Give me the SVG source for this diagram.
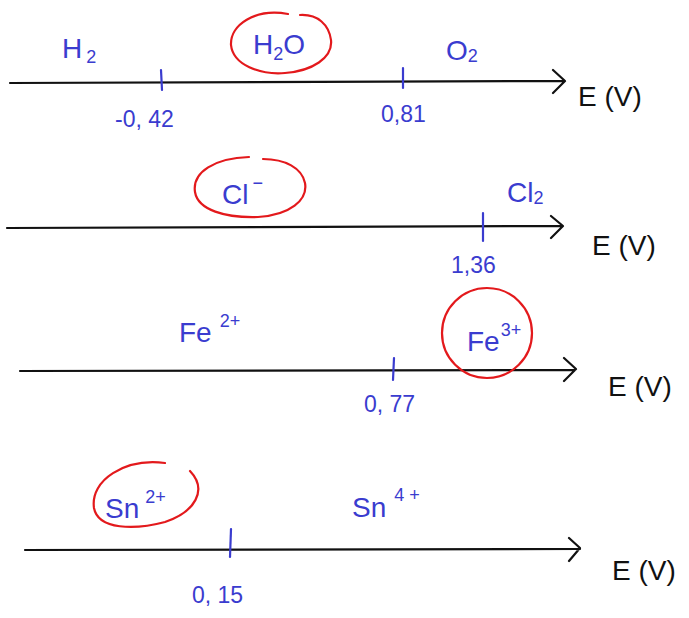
<svg xmlns="http://www.w3.org/2000/svg" width="689" height="618" viewBox="0 0 689 618">
<defs>
<style>
.ax{stroke:#111;stroke-width:2.2;fill:none;stroke-linecap:round;stroke-linejoin:round}
.tk{stroke:#3a3ccf;stroke-width:2.2;stroke-linecap:round}
.ring{stroke:#e3191c;stroke-width:2.2;fill:none;stroke-linecap:round}
.sp{font-family:"Liberation Sans","DejaVu Sans",sans-serif;fill:#3a3ccf;font-size:28px}
.num{font-family:"Liberation Sans","DejaVu Sans",sans-serif;fill:#3a3ccf;font-size:23px}
.ev{font-family:"Liberation Sans","DejaVu Sans",sans-serif;fill:#111;font-size:28px}
.sub{font-size:18px}
</style>
</defs>
<rect width="689" height="618" fill="#fff"/>
<g id="connectors">
<path class="ax" d="M10 83 L563 81 M553 70 L565 81 L553 93"/>
<path class="ax" d="M7 228 L562 226 M551 216 L563 226 L551 238"/>
<path class="ax" d="M20 371 L575 370 M564 358 L576 369 L564 381"/>
<path class="ax" d="M25 550 L580 549 M569 538 L580 548 L569 561"/>
</g>
<g id="row1">
<line class="tk" x1="161" y1="70" x2="162" y2="90"/>
<line class="tk" x1="403" y1="68" x2="403" y2="88"/>
<text class="sp" x="62" y="58">H<tspan class="sub" dx="4" dy="5">2</tspan></text>
<g id="h2o"><path class="ring" d="M288 14 C255 8 230 25 231 45 C233 65 260 75 285 73 C312 71 333 58 331 40 C329 25 318 14 300 15"/>
<text class="sp" x="253" y="54">H<tspan class="sub" dy="6">2</tspan><tspan dy="-6">O</tspan></text></g>
<text class="sp" x="446" y="60">O<tspan class="sub" dy="2">2</tspan></text>
<text class="num" x="115" y="127">-0, 42</text>
<text class="num" x="381" y="122">0,81</text>
<text class="ev" x="578" y="106">E (V)</text>
</g>
<g id="row2">
<line class="tk" x1="483" y1="213" x2="483" y2="241"/>
<g id="cl"><path class="ring" d="M249 157 C215 158 192 172 195 192 C198 210 225 218 258 217 C290 215 308 200 305 183 C302 168 285 159 263 159"/>
<text class="sp" x="222" y="204">Cl<tspan class="sub" dx="4" dy="-15">−</tspan></text></g>
<text class="sp" x="507" y="202">Cl<tspan class="sub" dy="2">2</tspan></text>
<text class="num" x="451" y="273">1,36</text>
<text class="ev" x="592" y="255">E (V)</text>
</g>
<g id="row3">
<line class="tk" x1="394" y1="358" x2="393" y2="380"/>
<text class="sp" x="179" y="342">Fe<tspan class="sub" dx="8" dy="-15">2+</tspan></text>
<g id="fe3"><ellipse class="ring" cx="487" cy="333" rx="45" ry="45"/>
<text class="sp" x="467" y="351">Fe<tspan class="sub" dx="1" dy="-15">3+</tspan></text></g>
<text class="num" x="364" y="412">0, 77</text>
<text class="ev" x="608" y="396">E (V)</text>
</g>
<g id="row4">
<line class="tk" x1="231" y1="529" x2="230" y2="557"/>
<g id="sn2"><path class="ring" d="M165 463 C125 458 90 480 94 508 C98 530 135 530 165 522 C195 512 208 490 190 471"/>
<text class="sp" x="105" y="518">Sn<tspan class="sub" dx="6" dy="-15">2+</tspan></text></g>
<text class="sp" x="352" y="517">Sn<tspan class="sub" dx="8" dy="-16">4 +</tspan></text>
<text class="num" x="192" y="603">0, 15</text>
<text class="ev" x="612" y="580">E (V)</text>
</g>
</svg>
